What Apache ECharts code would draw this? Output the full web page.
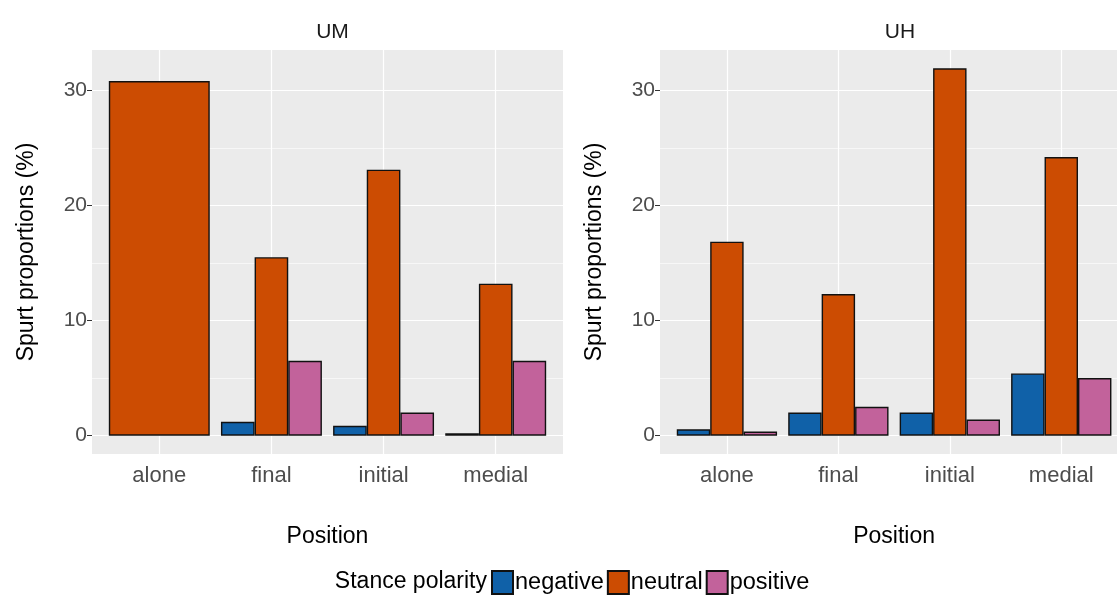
<!DOCTYPE html>
<html>
<head>
<meta charset="utf-8">
<script src="https://cdn.jsdelivr.net/npm/echarts@6/dist/echarts.min.js"></script>
<style>
html,body{margin:0;padding:0;background:#fff;}
#chart{width:1117px;height:599px;}
</style>
</head>
<body>
<div id="chart"></div>
<script>
// ---- data ----
const categories = ['alone', 'final', 'initial', 'medial'];
const groups = ['negative', 'neutral', 'positive'];
const panels = ['UM', 'UH'];
const umNegative = [null, 1.2, 0.85, 0.2];
const umNeutral  = [30.8, 15.5, 23.1, 13.2];
const umPositive = [null, 6.5, 2.0, 6.5];
const uhNegative = [0.55, 2.0, 2.0, 5.4];
const uhNeutral  = [16.85, 12.3, 31.9, 24.2];
const uhPositive = [0.35, 2.5, 1.4, 5.0];
const yBreaks = [0, 10, 20, 30];
const yMinor = [5, 15, 25];
const yTitle = 'Spurt proportions (%)';
const xTitle = 'Position';
const legendTitle = 'Stance polarity';

const colors = { negative: '#1061a8', neutral: '#cc4c02', positive: '#c2629b' };
const FONT = 'Liberation Sans, Arial, sans-serif';

const panelData = [
  [umNegative, umNeutral, umPositive],
  [uhNegative, uhNeutral, uhPositive]
];

// shared y range with ggplot-like 5% expansion
let all = [];
panelData.forEach(p => p.forEach(s => s.forEach(v => { if (v != null) all.push(v); })));
const dMax = Math.max(...all), dMin = Math.min(0, ...all);
const span = dMax - dMin;
const yLo = dMin - 0.05 * span, yHi = dMax + 0.05 * span;

// layout
const panelBox = [{ left: 92, width: 471 }, { left: 660, width: 470 }];
const TOP = 50, BOTTOM = 145;

const grid = [], xAxis = [], yAxis = [], series = [], title = [];

function gridLines(xi, yi, data, width) {
  return { type: 'line', xAxisIndex: xi, yAxisIndex: yi, data: [], z: 1, silent: true,
    markLine: { z: 1, symbol: ['none', 'none'], silent: true, animation: false, label: { show: false },
      emphasis: { disabled: true },
      lineStyle: { color: '#ffffff', type: 'solid', width: width }, data: data } };
}

panels.forEach((name, p) => {
  const box = panelBox[p];
  const u = box.width / (categories.length + 0.2);
  const bgGrid = grid.length;
  grid.push({ left: box.left, width: box.width, top: TOP, bottom: BOTTOM, show: true,
    backgroundColor: '#ebebeb', borderWidth: 0, containLabel: false, z: 0 });
  const dataGrid = grid.length;
  grid.push({ left: box.left + 0.1 * u, width: categories.length * u, top: TOP, bottom: BOTTOM,
    show: false, containLabel: false });

  title.push({ text: name, left: box.left + box.width / 2, top: 17, textAlign: 'center',
    textStyle: { fontFamily: FONT, fontSize: 21, fontWeight: 'normal', color: '#1a1a1a' } });

  // bg axes
  const bgX = xAxis.length;
  xAxis.push({ type: 'value', gridIndex: bgGrid, min: 0, max: 1, show: false });
  const bgY = yAxis.length;
  yAxis.push({ type: 'value', gridIndex: bgGrid, min: yLo, max: yHi,
    axisLine: { show: false }, splitLine: { show: false },
    axisTick: { show: true, length: 5, lineStyle: { color: '#333', width: 1 }, customValues: yBreaks },
    axisLabel: { show: true, customValues: yBreaks, margin: 5, fontFamily: FONT, fontSize: 21, color: '#4d4d4d' },
    name: yTitle, nameLocation: 'middle', nameRotate: 90, nameGap: 54,
    nameTextStyle: { fontFamily: FONT, fontSize: 23, color: '#000' } });

  // data axes
  const dX = xAxis.length;
  xAxis.push({ type: 'category', gridIndex: dataGrid, data: categories,
    axisLine: { show: false },
    axisTick: { show: true, alignWithLabel: true, length: 5, lineStyle: { color: '#333', width: 1 } },
    axisLabel: { margin: 11, fontFamily: FONT, fontSize: 22, color: '#4d4d4d' },
    splitLine: { show: false },
    name: xTitle, nameLocation: 'middle', nameGap: 71,
    nameTextStyle: { fontFamily: FONT, fontSize: 23, color: '#000' } });
  const oX = xAxis.length;
  xAxis.push({ type: 'category', gridIndex: dataGrid, data: categories, show: false });
  const dY = yAxis.length;
  yAxis.push({ type: 'value', gridIndex: dataGrid, min: yLo, max: yHi, show: false });

  // gridlines (drawn under bars)
  series.push(gridLines(bgX, bgY, yMinor.map(v => ({ yAxis: v })), 0.6));
  series.push(gridLines(bgX, bgY, yBreaks.map(v => ({ yAxis: v })), 1.2));
  series.push(gridLines(dX, dY, categories.map(c => ({ xAxis: c })), 1.2));

  // bars: categories with a single present group are drawn full width (ggplot dodge)
  const vals = panelData[p];
  const single = categories.map((c, i) => vals.filter(s => s[i] != null).length === 1);
  groups.forEach((g, gi) => {
    series.push({ type: 'bar', name: g, xAxisIndex: dX, yAxisIndex: dY,
      data: vals[gi].map((v, i) => single[i] ? null : v),
      barGap: '0%', barCategoryGap: '10%', z: 3,
      itemStyle: { color: colors[g], borderColor: '#111', borderWidth: 1.4 } });
  });
  groups.forEach((g, gi) => {
    const d = vals[gi].map((v, i) => single[i] ? v : null);
    if (d.some(v => v != null)) {
      series.push({ type: 'bar', name: g, xAxisIndex: oX, yAxisIndex: dY, data: d,
        barCategoryGap: '10%', z: 3,
        itemStyle: { color: colors[g], borderColor: '#111', borderWidth: 1.4 } });
    }
  });
});

const chart = echarts.init(document.getElementById('chart'), null, { renderer: 'canvas' });
chart.setOption({
  animation: false,
  backgroundColor: '#ffffff',
  title: title,
  grid: grid,
  xAxis: xAxis,
  yAxis: yAxis,
  series: series,
  legend: { data: groups, left: 491, top: 570, padding: 0, icon: 'rect', itemWidth: 21, itemHeight: 23, itemGap: 3,
    selectedMode: false,
    textStyle: { fontFamily: FONT, fontSize: 23.5, color: '#000', padding: [0, 0, 0, -3] } },
  graphic: [{ type: 'text', right: 1117 - 487, top: 570,
    style: { text: legendTitle, fontFamily: FONT, fontSize: 23, fill: '#000' } }]
});
</script>
</body>
</html>
